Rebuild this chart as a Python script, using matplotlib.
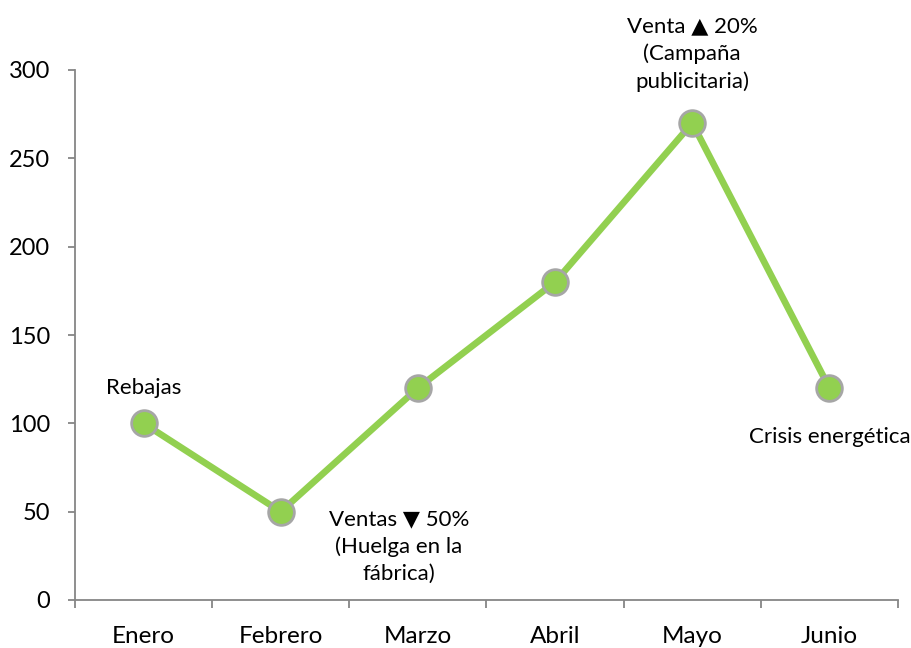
import matplotlib
matplotlib.use("Agg")
import matplotlib.pyplot as plt

categories = ["Enero", "Febrero", "Marzo", "Abril", "Mayo", "Junio"]
values = [100, 50, 120, 180, 270, 120]
y_ticks = [0, 50, 100, 150, 200, 250, 300]
annotations = [
    (0, "Rebajas"),
    (1, "Ventas \u25BC 50%\n(Huelga en la\nfábrica)"),
    (4, "Venta \u25B2 20%\n(Campaña\npublicitaria)"),
    (5, "Crisis energética"),
]
offsets_px = {0: (0, 35), 1: (118, -35), 4: (0, 69), 5: (0, -49)}

plt.rcParams['font.family'] = ['Lato', 'DejaVu Sans']

fig = plt.figure(figsize=(9.12, 6.48), dpi=100)
ax = fig.add_axes([75/912, 1-600/648, (898-75)/912, (600-70)/648])

x = list(range(len(categories)))
ax.plot(x, values, color="#92D050", linewidth=4.8, marker="o", markersize=18.5,
        markerfacecolor="#92D050", markeredgecolor="#A6A6A6", markeredgewidth=2,
        solid_capstyle="round", zorder=3, clip_on=False)

ax.set_xlim(-0.5, len(categories) - 0.5)
ax.set_ylim(0, 300)
ax.set_yticks(y_ticks)
ax.set_xticks(x)
ax.set_xticklabels(categories)
ax.set_xticks([i - 0.5 for i in range(len(categories) + 1)], minor=True)

axis_color = "#868686"
for s in ["top", "right"]:
    ax.spines[s].set_visible(False)
for s in ["left", "bottom"]:
    ax.spines[s].set_color(axis_color)
    ax.spines[s].set_linewidth(1.3)

ax.tick_params(axis="y", length=5, width=1.3, color=axis_color, labelsize=17, pad=13, labelcolor="black")
ax.tick_params(axis="x", which="major", length=0, labelsize=17.5, pad=19, labelcolor="black")
ax.tick_params(axis="x", which="minor", length=6, width=1.3, color=axis_color)

for idx, text in annotations:
    dx, dy = offsets_px[idx]
    ax.annotate(text, (x[idx], values[idx]), xytext=(dx, dy), textcoords="offset pixels",
                ha="center", va="center", fontsize=16, linespacing=1.45,
                multialignment="center", annotation_clip=False)

fig.savefig("out.png", dpi=100)
